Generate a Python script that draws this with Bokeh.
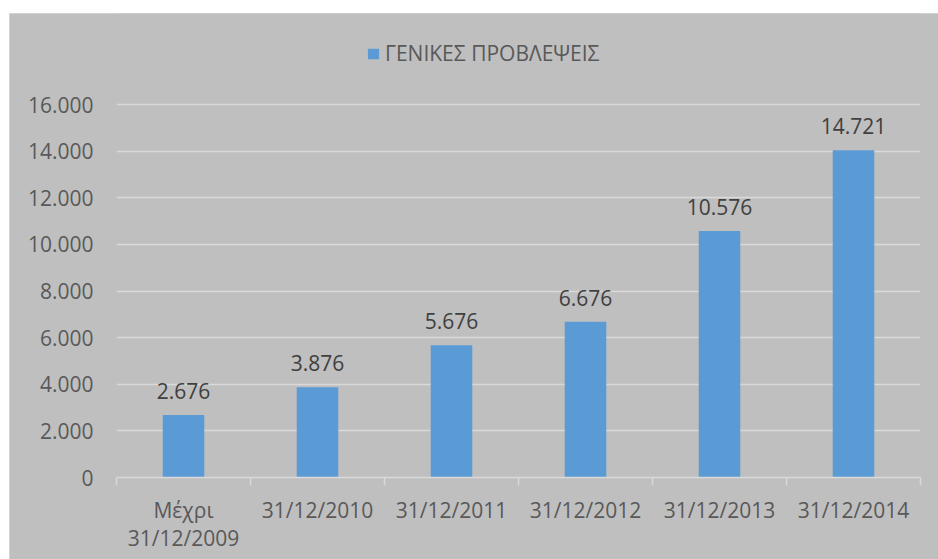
from bokeh.plotting import figure
from bokeh.models import ColumnDataSource, Range1d, FixedTicker, LabelSet, Legend, LegendItem
from bokeh.core.properties import value
from bokeh.embed import file_html
from bokeh.resources import INLINE

categories = ["Μέχρι\n31/12/2009", "31/12/2010", "31/12/2011", "31/12/2012", "31/12/2013", "31/12/2014"]
bar_values = [2676, 3876, 5676, 6676, 10576, 14040]
value_labels = ["2.676", "3.876", "5.676", "6.676", "10.576", "14.721"]
y_ticks = [0, 2000, 4000, 6000, 8000, 10000, 12000, 14000, 16000]
y_tick_labels = ["0", "2.000", "4.000", "6.000", "8.000", "10.000", "12.000", "14.000", "16.000"]
series_name = "ΓΕΝΙΚΕΣ ΠΡΟΒΛΕΨΕΙΣ"

FONT = "Open Sans"
BG = "#bfbfbf"
GRID = "#d9d9d9"

# layout: frame spans from figure top down to the axis line; the axis scale
# puts 16.000 at 373 px above the axis line, leaving room for the legend above.
FIG_W, FIG_H = 929, 546
BORDER_BOTTOM = 82
frame_h = FIG_H - BORDER_BOTTOM
y_end = y_ticks[-1] * frame_h / 373.0

xs = [i + 0.5 for i in range(len(categories))]
src = ColumnDataSource(dict(x=xs, top=bar_values, label=value_labels))

p = figure(width=FIG_W, height=FIG_H, margin=(13, 0, 0, 9),
           x_range=Range1d(0, len(categories)), y_range=Range1d(0, y_end),
           output_backend="svg", toolbar_location=None,
           min_border_left=107, min_border_right=18, min_border_top=0, min_border_bottom=BORDER_BOTTOM,
           background_fill_color=BG, border_fill_color=BG, outline_line_color=None,
           styles={"background-color": BG, "outline": "1px solid #d9d9d9", "outline-offset": "-1px"})

r = p.vbar(x="x", top="top", bottom=0, width=0.31, source=src,
           fill_color="#5b9bd5", line_color=None)

# y axis
p.yaxis.ticker = FixedTicker(ticks=y_ticks)
p.yaxis.major_label_overrides = {t: l for t, l in zip(y_ticks, y_tick_labels)}
p.yaxis.axis_line_color = None
p.yaxis.major_tick_line_color = None
p.yaxis.minor_tick_line_color = None
p.yaxis.major_tick_out = 0
p.yaxis.major_tick_in = 0
p.yaxis.major_label_standoff = 23
p.yaxis.major_label_text_font = FONT
p.yaxis.major_label_text_font_size = "21px"
p.yaxis.major_label_text_color = "#595959"

# x axis
p.xaxis.ticker = FixedTicker(ticks=xs, minor_ticks=list(range(len(categories) + 1)))
p.xaxis.major_label_overrides = {x: c for x, c in zip(xs, categories)}
p.xaxis.axis_line_color = GRID
p.xaxis.axis_line_width = 1.5
p.xaxis.major_tick_line_color = None
p.xaxis.major_tick_out = 0
p.xaxis.major_tick_in = 0
p.xaxis.minor_tick_line_color = GRID
p.xaxis.minor_tick_line_width = 1.5
p.xaxis.minor_tick_out = 8
p.xaxis.minor_tick_in = 0
p.xaxis.major_label_standoff = 10
p.xaxis.major_label_text_font = FONT
p.xaxis.major_label_text_font_size = "21px"
p.xaxis.major_label_text_line_height = 1.0
p.xaxis.major_label_text_color = "#595959"

p.xgrid.grid_line_color = None
p.xgrid.minor_grid_line_color = None
p.ygrid.ticker = FixedTicker(ticks=y_ticks)
p.ygrid.grid_line_color = GRID
p.ygrid.grid_line_width = 1.3

labels = LabelSet(x="x", y="top", text="label", source=src,
                  text_align="center", text_baseline="middle", y_offset=24,
                  text_font=value(FONT), text_font_size=value("21px"), text_color="#404040")
p.add_layout(labels)

legend = Legend(items=[LegendItem(label=series_name, renderers=[r])],
                location=(250, 410), orientation="horizontal",
                glyph_width=14, glyph_height=13, label_standoff=5,
                padding=0, margin=0, background_fill_alpha=0, border_line_color=None,
                label_text_font=FONT, label_text_font_size="21px",
                label_text_color="#595959")
p.add_layout(legend)

open("out.html", "w").write(file_html(p, INLINE))
